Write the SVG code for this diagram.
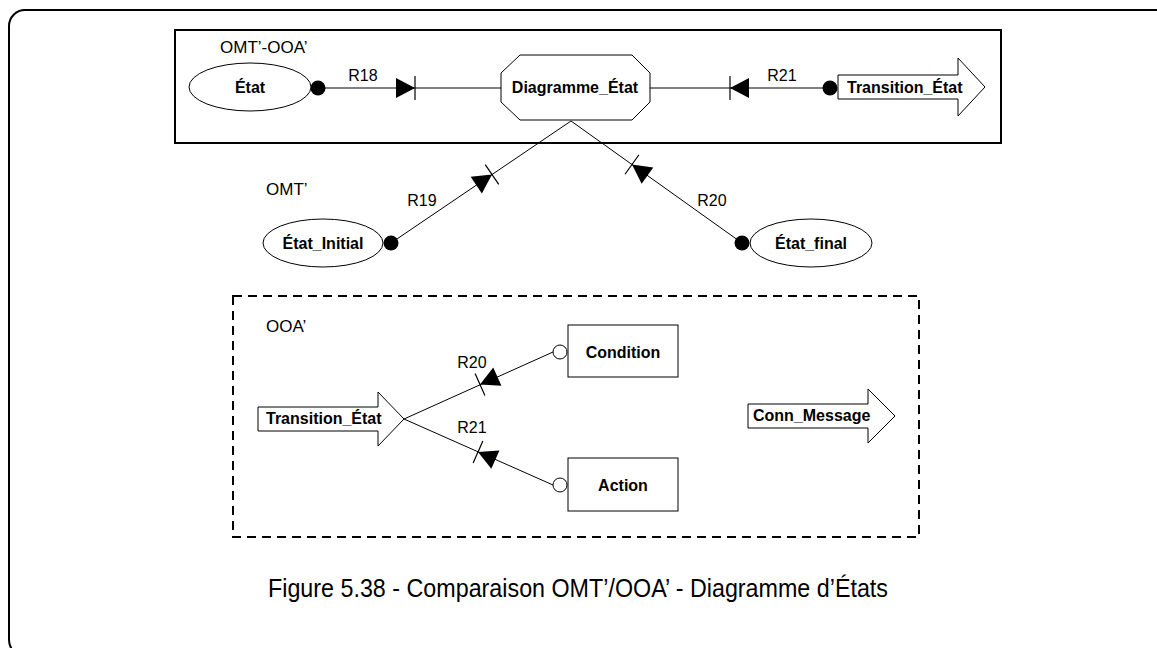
<svg xmlns="http://www.w3.org/2000/svg" xmlns:xlink="http://www.w3.org/1999/xlink" width="1157" height="648" viewBox="0 0 1157 648">
<style>
.lbl{font-family:"Liberation Sans",Arial,sans-serif;font-size:16px;fill:#000}
.grp{font-family:"Liberation Sans",Arial,sans-serif;font-size:17px;fill:#000}
.nm{font-family:"Liberation Sans",Arial,sans-serif;font-size:16px;font-weight:bold;fill:#000}
.shape{fill:#fff;stroke:#000;stroke-width:1}
.conn{stroke:#000;stroke-width:1;fill:none}
.dot{fill:#000}
.odot{fill:#fff;stroke:#000;stroke-width:1}
</style>
<defs>
<g id="tribar"><polygon points="0,0 -19,-10 -19,10" fill="#000"/><line x1="0" y1="-12" x2="0" y2="12" stroke="#000" stroke-width="1.2"/></g>
</defs>
<rect x="0" y="0" width="1157" height="648" fill="#fff"/>
<rect id="frame" x="9" y="10" width="1165" height="646" rx="16" fill="none" stroke="#000" stroke-width="2"/>
<g id="group-omt-ooa">
<rect x="175" y="30" width="826" height="113" fill="none" stroke="#000" stroke-width="2"/>
<text class="grp" x="220" y="53">OMT’-OOA’</text>
</g>
<g id="group-omt"><text class="grp" x="266" y="195">OMT’</text></g>
<g id="group-ooa">
<rect x="233" y="296" width="686" height="241" fill="none" stroke="#000" stroke-width="2" stroke-dasharray="9 6"/>
<text class="grp" x="266" y="332">OOA’</text>
</g>
<g id="connectors">
<line class="conn" x1="318" y1="88" x2="501" y2="88"/>
<use xlink:href="#tribar" transform="translate(415,88)"/>
<text class="lbl" x="363" y="81" text-anchor="middle">R18</text>
<line class="conn" x1="650" y1="88" x2="830" y2="88"/>
<use xlink:href="#tribar" transform="translate(730,88) rotate(180)"/>
<text class="lbl" x="782" y="81" text-anchor="middle">R21</text>
<line class="conn" x1="391" y1="243" x2="571" y2="121"/>
<use xlink:href="#tribar" transform="translate(492,174.5) rotate(-34.1)"/>
<text class="lbl" x="422" y="206" text-anchor="middle">R19</text>
<line class="conn" x1="742" y1="243" x2="571" y2="121"/>
<use xlink:href="#tribar" transform="translate(632,164.5) rotate(-144.5)"/>
<text class="lbl" x="712" y="206" text-anchor="middle">R20</text>
<line class="conn" x1="404" y1="419" x2="553" y2="352"/>
<use xlink:href="#tribar" transform="translate(480,384.5) rotate(155.8)"/>
<text class="lbl" x="472" y="368" text-anchor="middle">R20</text>
<line class="conn" x1="404" y1="419" x2="553" y2="485"/>
<use xlink:href="#tribar" transform="translate(478,452) rotate(203.9)"/>
<text class="lbl" x="472" y="433" text-anchor="middle">R21</text>
<circle class="dot" cx="318" cy="88" r="7.5"/>
<circle class="dot" cx="830" cy="88" r="7.5"/>
<circle class="dot" cx="391" cy="243" r="7.5"/>
<circle class="dot" cx="742" cy="243" r="7.5"/>
<circle class="odot" cx="560" cy="352" r="7"/>
<circle class="odot" cx="560" cy="485" r="7"/>
</g>
<g id="etat">
<ellipse class="shape" cx="250" cy="87" rx="61" ry="24"/>
<text class="nm" x="250" y="93" text-anchor="middle">État</text>
</g>
<g id="diagramme-etat">
<polygon class="shape" points="520,55 632,55 650,73 650,102 632,120 520,120 501,102 501,73"/>
<text class="nm" x="575" y="93" text-anchor="middle">Diagramme_État</text>
</g>
<g id="transition-etat-top">
<polygon class="shape" points="838,75 958,75 958,58 985,87 958,116 958,99 838,99"/>
<text class="nm" x="847" y="93">Transition_État</text>
</g>
<g id="etat-initial">
<ellipse class="shape" cx="323" cy="243" rx="60" ry="24"/>
<text class="nm" x="323" y="249" text-anchor="middle">État_Initial</text>
</g>
<g id="etat-final">
<ellipse class="shape" cx="811" cy="243" rx="61" ry="24"/>
<text class="nm" x="811" y="249" text-anchor="middle">État_final</text>
</g>
<g id="transition-etat-bottom">
<polygon class="shape" points="258,407 378,407 378,392 404,419 378,446 378,431 258,431"/>
<text class="nm" x="266" y="424">Transition_État</text>
</g>
<g id="condition">
<rect class="shape" x="568" y="325" width="110" height="52"/>
<text class="nm" x="623" y="358" text-anchor="middle">Condition</text>
</g>
<g id="action">
<rect class="shape" x="568" y="458" width="110" height="53"/>
<text class="nm" x="623" y="491" text-anchor="middle">Action</text>
</g>
<g id="conn-message">
<polygon class="shape" points="748,404 868,404 868,389 895,416 868,443 868,428 748,428"/>
<text class="nm" x="753" y="421">Conn_Message</text>
</g>
<text id="caption" x="578" y="597" text-anchor="middle" font-family="'Liberation Sans',Arial,sans-serif" font-size="26" textLength="620" lengthAdjust="spacingAndGlyphs">Figure 5.38 - Comparaison OMT’/OOA’ - Diagramme d’États</text>
</svg>
